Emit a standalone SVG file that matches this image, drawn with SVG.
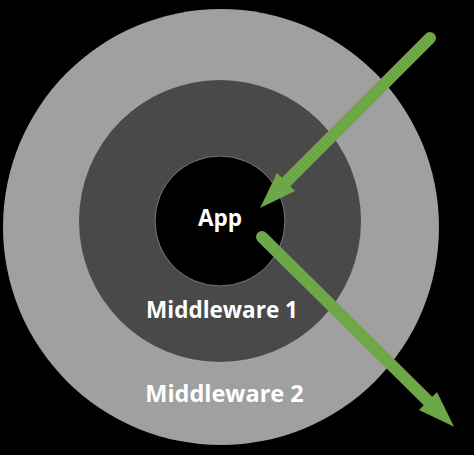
<svg xmlns="http://www.w3.org/2000/svg" width="474" height="455" viewBox="0 0 474 455">
<style>
.lbl{font-family:"Open Sans","Liberation Sans",sans-serif;font-weight:700;fill:#fff;text-anchor:middle;font-size:22.5px}
.arr{stroke:#6ea747;stroke-width:12;stroke-linecap:round;fill:none;marker-end:url(#head)}
</style>
<defs>
<marker id="head" markerUnits="userSpaceOnUse" orient="auto" refX="0" refY="0" markerWidth="40" markerHeight="30" viewBox="0 -13 36 26" overflow="visible">
<path d="M0,-11.5 L33,0 L0,11.5 z" fill="#6ea747"/>
</marker>
</defs>
<rect width="474" height="455" fill="#000"/>
<g id="mw2"><circle cx="221" cy="227" r="218" fill="#a0a0a0"/><text class="lbl" x="224.5" y="402" style="font-size:23.5px">Middleware 2</text></g>
<g id="mw1"><circle cx="220" cy="221" r="141" fill="#494949"/><text class="lbl" x="222" y="318">Middleware 1</text></g>
<g id="app"><circle cx="220" cy="221" r="65" fill="#000" stroke="#7a7a7a" stroke-width="1"/><text class="lbl" x="220" y="226">App</text></g>
<g id="connectors">
<line class="arr" x1="430" y1="38" x2="286" y2="182"/>
<line class="arr" x1="262" y1="237" x2="428" y2="401"/>
</g>
</svg>
